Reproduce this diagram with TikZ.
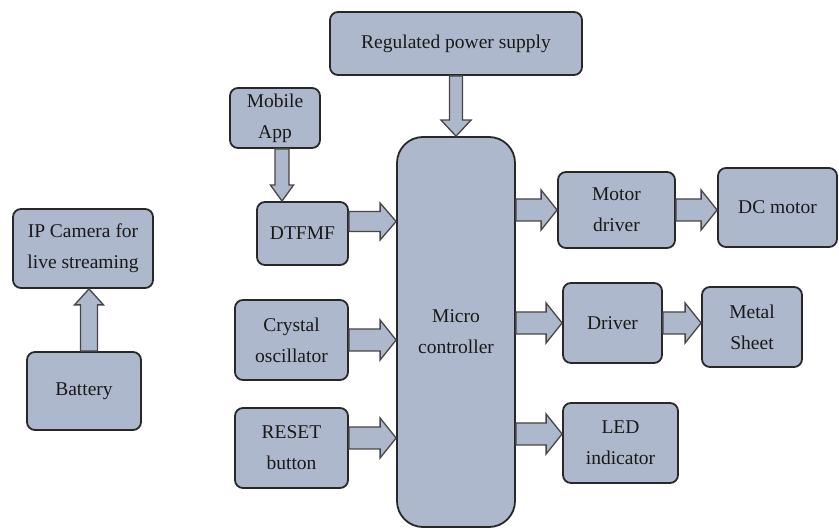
\documentclass[tikz,border=0pt]{standalone}
\usepackage{fontspec}
\setmainfont{Liberation Serif}
\usetikzlibrary{calc}
\definecolor{boxfill}{RGB}{174,184,204}
\definecolor{boxline}{RGB}{40,40,40}
\definecolor{arrline}{RGB}{70,70,70}
\definecolor{txt}{RGB}{25,25,25}

\begin{document}
\begin{tikzpicture}[x=1pt,y=1pt,
  blk/.style 2 args={draw=boxline,line width=1.8pt,fill=boxfill,rounded corners=8pt,
    minimum width=#1pt,minimum height=#2pt,align=center,text=txt,inner sep=0pt,
    font=\fontsize{19.5}{31}\selectfont},
  fat/.style 2 args={draw=arrline,line width=1.3pt,fill=boxfill,to path={
    let \p1=(\tikztostart), \p2=(\tikztotarget),
        \n1={atan2(\y2-\y1,\x2-\x1)} in
    ($(\p1)+({\n1+90}:#1)$) -- ($(\p2)+({\n1+180}:16pt)+({\n1+90}:#1)$)
    -- ($(\p2)+({\n1+180}:16pt)+({\n1+90}:#2)$) -- (\p2)
    -- ($(\p2)+({\n1+180}:16pt)+({\n1-90}:#2)$)
    -- ($(\p2)+({\n1+180}:16pt)+({\n1-90}:#1)$)
    -- ($(\p1)+({\n1-90}:#1)$) -- cycle}},
  vfat/.style={fat={8.5pt}{14.5pt}},
  hfat/.style={fat={11pt}{20pt}}]
\useasboundingbox (0,0) rectangle (839,-529);

\node[blk={140}{79}] (cam) at (83,-248.5) {IP Camera for\\live streaming};
\node[blk={114}{78}] (bat) at (84,-391) {Battery};

\node[blk={252}{63}] (rps) at (456,-43.5) {Regulated power supply};
\node[blk={90}{60}] (app) at (275,-118) {Mobile\\App};
\node[blk={91}{63}] (dtmf) at (302.5,-233.5) {DTFMF};
\node[blk={113}{80}] (xtal) at (291.5,-340) {Crystal\\oscillator};
\node[blk={113}{80}] (rst) at (291.5,-448) {RESET\\button};
\node[blk={118}{390},rounded corners=26pt] (mcu) at (456,-332) {Micro\\controller};

\node[blk={117}{76}] (mdrv) at (616.5,-210) {Motor\\driver};
\node[blk={119}{79}] (dcm) at (777.5,-207.5) {DC motor};
\node[blk={99}{80}] (drv) at (612.5,-323) {Driver};
\node[blk={100}{80}] (sheet) at (752,-327) {Metal\\Sheet};
\node[blk={115}{80}] (led) at (620.5,-443) {LED\\indicator};

\coordinate (b1) at ([xshift=5pt]bat.north);
\coordinate (a1) at ([xshift=7pt]app.south);
\coordinate (d1) at ([yshift=12pt]dtmf.east);
\coordinate (r1) at ([yshift=10pt]rst.east);
\coordinate (l1) at ([yshift=9pt]led.west);

\draw[vfat] (b1) to (b1 |- cam.south);
\draw[fat={6.5pt}{15pt}] (rps.south) to (mcu.north);
\draw[fat={7pt}{11.5pt}] (a1) to (a1 |- dtmf.north);

\draw[fat={10pt}{18.5pt}] (d1) to (d1 -| mcu.west);
\draw[hfat] (xtal.east) to (xtal.east -| mcu.west);
\draw[hfat] (r1) to (r1 -| mcu.west);

\draw[hfat] (mcu.east |- mdrv.west) to (mdrv.west);
\draw[hfat] (mdrv.east) to (mdrv.east -| dcm.west);
\draw[hfat] (mcu.east |- drv.west) to (drv.west);
\draw[hfat] (drv.east) to (drv.east -| sheet.west);
\draw[hfat] (l1 -| mcu.east) to (l1);

\end{tikzpicture}
\end{document}
